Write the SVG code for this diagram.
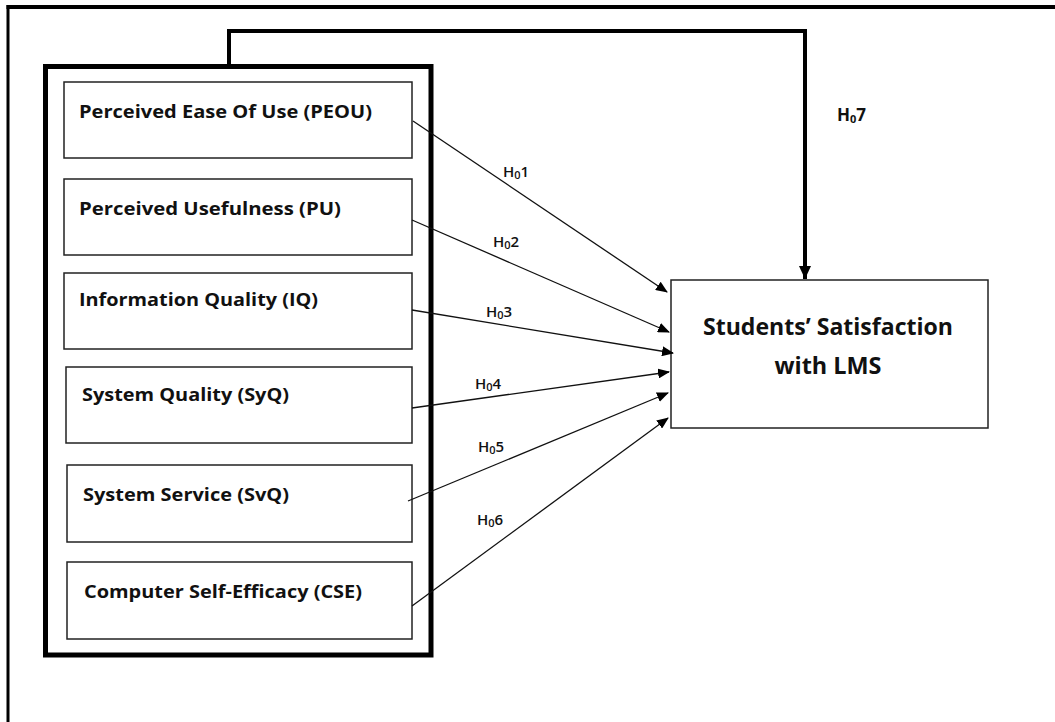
<svg xmlns="http://www.w3.org/2000/svg" width="1055" height="722" viewBox="0 0 1055 722">
  <style>
    .box { fill: #fff; stroke: #222; stroke-width: 1.5; }
    .lbl { font-family: "Open Sans", "Liberation Sans", sans-serif; font-weight: 700; font-size: 18px; fill: #111; }
    .big { font-family: "Open Sans", "Liberation Sans", sans-serif; font-weight: 700; font-size: 24px; fill: #111; }
    .h { font-family: "Open Sans", "Liberation Sans", sans-serif; font-weight: 600; font-size: 15px; fill: #111; }
    .h7 { font-size: 17px; font-weight: 700; }
    .sub { font-size: 11px; }
    .conn { stroke: #111; stroke-width: 1.3; fill: none; }
  </style>
  <defs>
    <marker id="ah" markerUnits="userSpaceOnUse" markerWidth="12" markerHeight="10" refX="11" refY="5" orient="auto">
      <path d="M0,0 L12,5 L0,10 Z" fill="#000"/>
    </marker>
    <marker id="ahBig" markerUnits="userSpaceOnUse" markerWidth="12" markerHeight="14" refX="13" refY="6" orient="auto">
      <path d="M0,0 L13,6 L0,12 Z" fill="#000"/>
    </marker>
  </defs>
  <rect width="1055" height="722" fill="#fff"/>

  <!-- outer frame (top and left edges only) -->
  <g id="frame" stroke="#000" fill="none">
    <line x1="6.5" y1="7" x2="1055" y2="7" stroke-width="4"/>
    <line x1="8" y1="5" x2="8" y2="722" stroke-width="3"/>
  </g>

  <!-- group box -->
  <g id="group">
    <rect x="45.5" y="66.5" width="385.5" height="588.5" fill="none" stroke="#000" stroke-width="5"/>
  </g>

  <g id="n-peou">
    <rect class="box" x="64" y="82" width="348" height="76"/>
    <text class="lbl" x="79" y="118" textLength="293" lengthAdjust="spacingAndGlyphs">Perceived Ease Of Use (PEOU)</text>
  </g>
  <g id="n-pu">
    <rect class="box" x="64" y="179" width="348" height="76"/>
    <text class="lbl" x="79" y="215" textLength="262" lengthAdjust="spacingAndGlyphs">Perceived Usefulness (PU)</text>
  </g>
  <g id="n-iq">
    <rect class="box" x="64" y="273" width="348" height="76"/>
    <text class="lbl" x="79" y="306" textLength="239" lengthAdjust="spacingAndGlyphs">Information Quality (IQ)</text>
  </g>
  <g id="n-syq">
    <rect class="box" x="66" y="367" width="346" height="76"/>
    <text class="lbl" x="82" y="401" textLength="207" lengthAdjust="spacingAndGlyphs">System Quality (SyQ)</text>
  </g>
  <g id="n-svq">
    <rect class="box" x="67" y="465" width="345" height="77"/>
    <text class="lbl" x="83" y="501" textLength="206" lengthAdjust="spacingAndGlyphs">System Service (SvQ)</text>
  </g>
  <g id="n-cse">
    <rect class="box" x="67" y="562" width="345" height="77"/>
    <text class="lbl" x="84" y="598" textLength="278" lengthAdjust="spacingAndGlyphs">Computer Self-Efficacy (CSE)</text>
  </g>

  <g id="n-lms">
    <rect class="box" x="671" y="280" width="317" height="148"/>
    <text class="big" x="828" y="335" text-anchor="middle" textLength="250" lengthAdjust="spacingAndGlyphs">Students’ Satisfaction</text>
    <text class="big" x="828" y="374" text-anchor="middle" textLength="107" lengthAdjust="spacingAndGlyphs">with LMS</text>
  </g>

  <g id="connectors">
    <line class="conn" x1="413" y1="121" x2="667" y2="292" marker-end="url(#ah)"/>
    <line class="conn" x1="412" y1="220" x2="669" y2="332" marker-end="url(#ah)"/>
    <line class="conn" x1="412" y1="310" x2="673" y2="353" marker-end="url(#ah)"/>
    <line class="conn" x1="412" y1="408" x2="669" y2="372" marker-end="url(#ah)"/>
    <line class="conn" x1="408" y1="501" x2="668" y2="393" marker-end="url(#ah)"/>
    <line class="conn" x1="412" y1="606" x2="668" y2="418" marker-end="url(#ah)"/>
    <polyline points="229,66 229,31 805,31 805,279" fill="none" stroke="#000" stroke-width="4" marker-end="url(#ahBig)"/>
  </g>

  <g id="labels">
    <text class="h" x="503" y="177">H<tspan class="sub" dy="2">0</tspan><tspan dy="-2">1</tspan></text>
    <text class="h" x="493" y="247">H<tspan class="sub" dy="2">0</tspan><tspan dy="-2">2</tspan></text>
    <text class="h" x="486" y="317">H<tspan class="sub" dy="2">0</tspan><tspan dy="-2">3</tspan></text>
    <text class="h" x="475" y="389">H<tspan class="sub" dy="2">0</tspan><tspan dy="-2">4</tspan></text>
    <text class="h" x="478" y="452">H<tspan class="sub" dy="2">0</tspan><tspan dy="-2">5</tspan></text>
    <text class="h" x="477" y="525">H<tspan class="sub" dy="2">0</tspan><tspan dy="-2">6</tspan></text>
    <text class="h h7" x="837" y="121">H<tspan class="sub" dy="2">0</tspan><tspan dy="-2">7</tspan></text>
  </g>
</svg>
